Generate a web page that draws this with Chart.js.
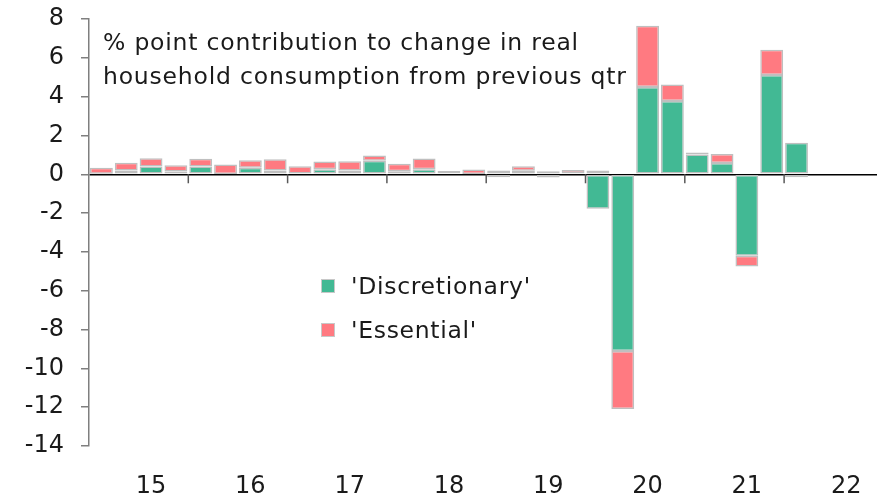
<!DOCTYPE html>
<html lang="en">
<head>
    <meta charset="UTF-8">
    <title>Consumption contributions</title>
    <script src="https://cdn.jsdelivr.net/npm/chart.js"></script>
    <style>
        body { margin: 0; overflow: hidden; background: #fff; font-family: 'DejaVu Sans', sans-serif; color: #1a1a1a; }
        .wrap { position: relative; width: 889px; height: 501px; }
        .note { position: absolute; left: 103px; top: 25px; font-size: 23.5px; line-height: 34px; letter-spacing: 0.8px; white-space: nowrap; }
        .legend { position: absolute; left: 321px; top: 264px; font-size: 23.5px; letter-spacing: 0.7px; }
        .legend div { height: 44px; display: flex; align-items: center; }
        .legend span.box { width: 12px; height: 12px; margin-right: 16px; border: 1px solid #c8c8c8; }
    </style>
</head>
<body>
    <div class="wrap">
        <canvas id="chart"></canvas>
        <div class="note">% point contribution to change in real<br>household consumption from previous qtr</div>
        <div class="legend" id="legend"></div>
    </div>

    <script>
        // quarters Mar-15 .. Dec-22 (last three empty)
        const quarters = [];
        for (let yr = 15; yr <= 22; yr++) {
            ['Mar', 'Jun', 'Sep', 'Dec'].forEach(m => quarters.push(m + '-' + yr));
        }

        const discretionary = [0.03, 0.2, 0.4, 0.14, 0.4, 0.02, 0.33, 0.19, 0.0, 0.26, 0.19, 0.7,
            0.16, 0.26, 0.05, 0.02, -0.15, 0.18, -0.17, 0.05, -1.78, -9.1, 4.5, 3.77,
            1.02, 0.58, -4.2, 5.12, 1.62, null, null, null];
        const essential = [0.3, 0.4, 0.43, 0.33, 0.4, 0.48, 0.39, 0.59, 0.41, 0.4, 0.48, 0.27,
            0.38, 0.55, 0.12, 0.23, 0.2, 0.23, 0.15, 0.17, 0.2, -3.0, 3.15, 0.86,
            0.1, 0.47, -0.55, 1.3, -0.15, null, null, null];

        const yTicks = [8, 6, 4, 2, 0, -2, -4, -6, -8, -10, -12, -14];

        const green = '#42b994';
        const pink = '#ff7a81';
        const edge = '#bfbfbf';

        // small tick marks on the zero line between years
        const zeroTicks = {
            id: 'zeroTicks',
            afterDatasetsDraw(chart) {
                const x = chart.scales.x, y = chart.scales.y;
                const y0 = y.getPixelForValue(0);
                const ctx = chart.ctx;
                ctx.save();
                ctx.strokeStyle = '#595959';
                ctx.lineWidth = 1.5;
                for (let k = 1; k < 8; k++) {
                    const px = (x.getPixelForValue(4 * k - 1) + x.getPixelForValue(4 * k)) / 2;
                    ctx.beginPath();
                    ctx.moveTo(px, y0);
                    ctx.lineTo(px, y0 + 9);
                    ctx.stroke();
                }
                ctx.restore();
            }
        };

        const chart = new Chart(document.getElementById('chart'), {
            type: 'bar',
            data: {
                labels: quarters,
                datasets: [
                    {
                        label: "'Discretionary'",
                        data: discretionary,
                        backgroundColor: green,
                        borderColor: edge,
                        borderWidth: 1.5,
                        borderSkipped: false,
                        barPercentage: 0.92,
                        categoryPercentage: 1
                    },
                    {
                        label: "'Essential'",
                        data: essential,
                        backgroundColor: pink,
                        borderColor: edge,
                        borderWidth: 1.5,
                        borderSkipped: false,
                        barPercentage: 0.92,
                        categoryPercentage: 1
                    }
                ]
            },
            plugins: [zeroTicks],
            options: {
                responsive: true,
                maintainAspectRatio: false,
                animation: false,
                layout: { padding: { top: 19, right: 0, bottom: 0, left: 0 } },
                plugins: {
                    legend: { display: false },
                    tooltip: { enabled: false }
                },
                scales: {
                    x: {
                        stacked: true,
                        grid: { display: false },
                        border: { display: false },
                        afterFit(s) { s.height = 55; },
                        ticks: {
                            autoSkip: false,
                            maxRotation: 0,
                            padding: 18,
                            color: '#1a1a1a',
                            font: { family: 'DejaVu Sans', size: 24 },
                            callback(v, i) {
                                return i % 4 === 2 ? quarters[i].slice(4) : '';
                            }
                        }
                    },
                    y: {
                        stacked: true,
                        min: -14,
                        max: 8,
                        afterFit(s) {
                            s.width = 89;
                            s.paddingTop = 0;
                            s.paddingBottom = 0;
                        },
                        afterBuildTicks(s) { s.ticks = yTicks.map(v => ({ value: v })); },
                        border: { display: true, color: '#7f7f7f', width: 1.5 },
                        grid: {
                            drawTicks: true,
                            tickLength: 8,
                            tickColor: '#7f7f7f',
                            lineWidth: 1.5,
                            color: ctx => ctx.tick && ctx.tick.value === 0 ? '#000' : 'rgba(0,0,0,0)'
                        },
                        ticks: {
                            padding: 17,
                            color: '#1a1a1a',
                            font: { family: 'DejaVu Sans', size: 24 }
                        }
                    }
                }
            }
        });

        const legendBox = document.getElementById('legend');
        chart.data.datasets.forEach(ds => {
            const row = document.createElement('div');
            const box = document.createElement('span');
            box.className = 'box';
            box.style.background = ds.backgroundColor;
            row.appendChild(box);
            row.appendChild(document.createTextNode(ds.label));
            legendBox.appendChild(row);
        });
    </script>
</body>
</html>
